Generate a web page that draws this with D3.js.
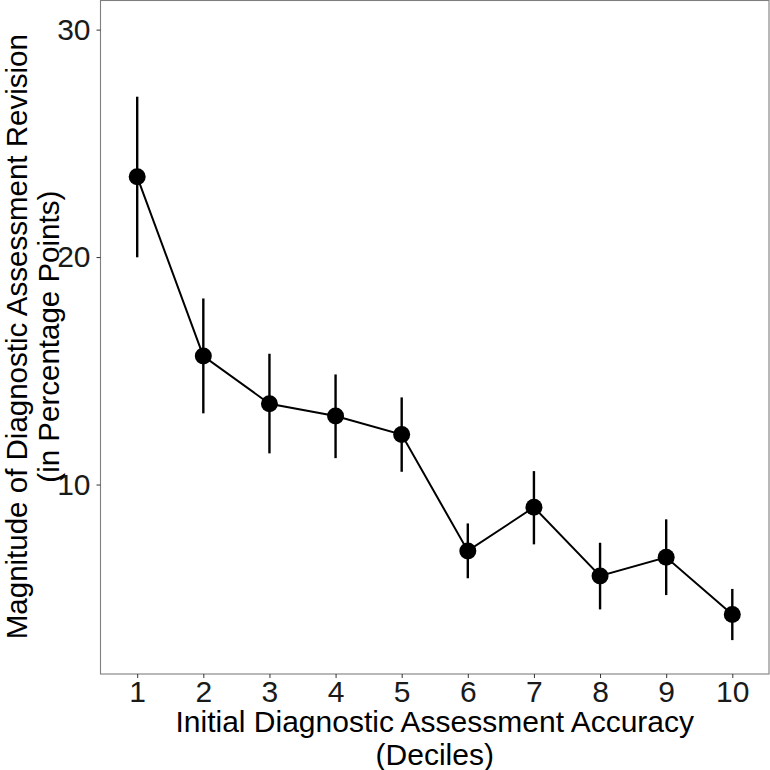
<!DOCTYPE html>
<html><head><meta charset="utf-8">
<script src="https://cdn.jsdelivr.net/npm/d3@7"></script>
<style>body{margin:0;background:#fff}svg{display:block}text{font-family:"Liberation Sans",Arial,sans-serif}</style>
</head><body>
<script>
const deciles = [1,2,3,4,5,6,7,8,9,10];
const means = [23.53,15.65,13.55,13.01,12.20,7.08,9.00,5.98,6.80,4.29];
const upper = [27.05,18.18,15.75,14.84,13.83,8.29,10.59,7.44,8.47,5.41];
const lower = [19.99,13.13,11.37,11.16,10.56,5.88,7.37,4.51,5.14,3.16];
const yTicks = [10,20,30];
const xTitle = ["Initial Diagnostic Assessment Accuracy","(Deciles)"];
const yTitle = ["Magnitude of Diagnostic Assessment Revision","(in Percentage Points)"];

const W=770,H=770;
const P={l:100.5,r:769,t:0.5,b:674};
const svg=d3.select("body").append("svg").attr("width",W).attr("height",H);
const x=d3.scaleLinear().domain([0.445,10.555]).range([P.l,P.r]);
const y=d3.scaleLinear().domain([1.67,31.28]).range([P.b,P.t]);

svg.append("rect").attr("x",P.l).attr("y",P.t).attr("width",P.r-P.l).attr("height",P.b-P.t)
  .attr("fill","none").attr("stroke","#7f7f7f").attr("stroke-width",1.1);

const xa=svg.append("g").attr("transform",`translate(0,${P.b})`)
  .call(d3.axisBottom(x).tickValues(deciles).tickSize(4).tickPadding(3).tickFormat(d3.format("d")));
xa.select(".domain").remove();
xa.selectAll("line").attr("stroke","#333");
xa.selectAll("text").attr("font-size",30).attr("fill","#1a1a1a");

const ya=svg.append("g").attr("transform",`translate(${P.l},0)`)
  .call(d3.axisLeft(y).tickValues(yTicks).tickSize(4).tickPadding(6));
ya.select(".domain").remove();
ya.selectAll("line").attr("stroke","#333");
ya.selectAll("text").attr("font-size",30).attr("fill","#1a1a1a");

const data=deciles.map((d,i)=>({d,m:means[i],u:upper[i],l:lower[i]}));
svg.append("g").selectAll("line").data(data).join("line")
  .attr("x1",d=>x(d.d)).attr("x2",d=>x(d.d)).attr("y1",d=>y(d.l)).attr("y2",d=>y(d.u))
  .attr("stroke","#000").attr("stroke-width",2.4);
svg.append("path").datum(data).attr("fill","none").attr("stroke","#000").attr("stroke-width",2)
  .attr("d",d3.line().x(d=>x(d.d)).y(d=>y(d.m)));
svg.append("g").selectAll("circle").data(data).join("circle")
  .attr("cx",d=>x(d.d)).attr("cy",d=>y(d.m)).attr("r",8.5).attr("fill","#000");

const cx=(P.l+P.r)/2;
svg.append("text").attr("x",cx).attr("y",732).attr("text-anchor","middle").attr("font-size",30).text(xTitle[0]);
svg.append("text").attr("x",cx).attr("y",765).attr("text-anchor","middle").attr("font-size",30).text(xTitle[1]);
const cy=336.7;
svg.append("text").attr("transform",`translate(27,${cy}) rotate(-90)`).attr("text-anchor","middle").attr("font-size",29.5).text(yTitle[0]);
svg.append("text").attr("transform",`translate(59,${cy}) rotate(-90)`).attr("text-anchor","middle").attr("font-size",29.5).text(yTitle[1]);
</script>
</body></html>
